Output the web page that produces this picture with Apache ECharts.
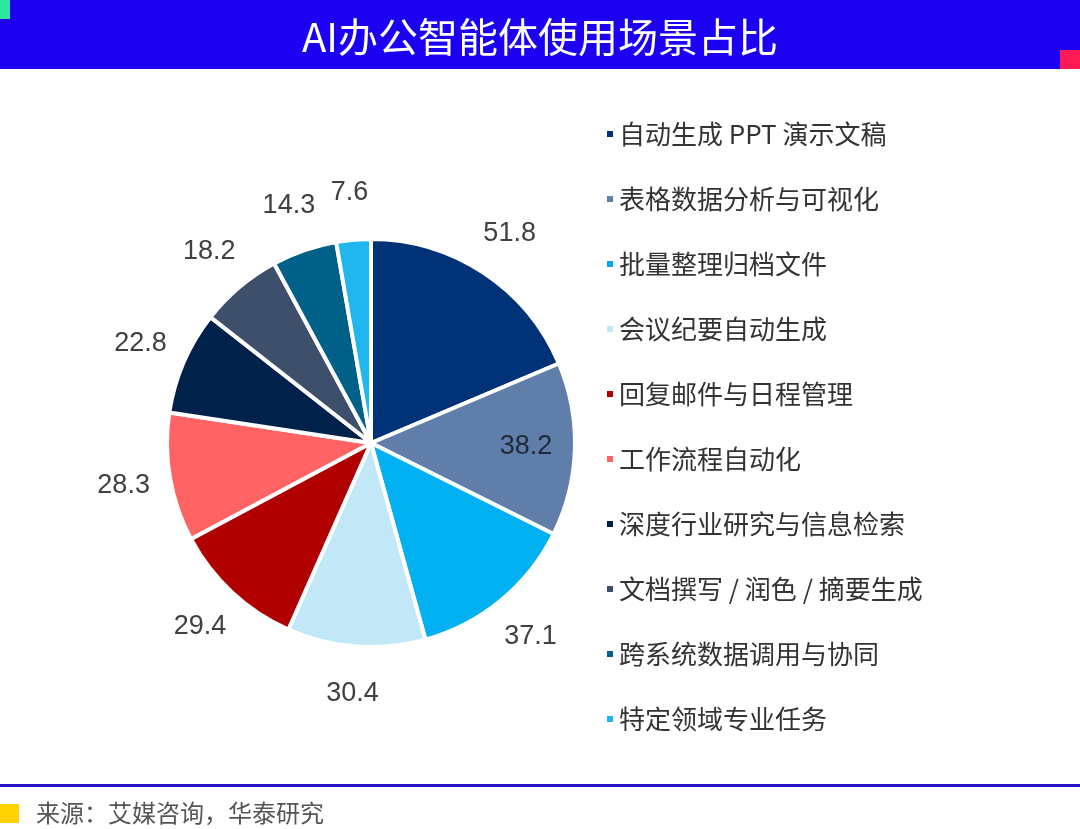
<!DOCTYPE html>
<html lang="zh">
<head>
    <meta charset="UTF-8">
    <title>AI办公智能体使用场景占比</title>
    <script src="https://cdn.jsdelivr.net/npm/echarts@6/dist/echarts.min.js"></script>
    <style>
        *{
            margin:0;
            padding:0;
        }
        html, body {
            width: 1080px;
            height: 829px;
            background: #fff;
            overflow: hidden;
        }
        #main {
            width: 1080px;
            height: 829px;
        }
    </style>
</head>
<body>
<div id="main"></div>
<script>
    // 使用场景 & 占比
    var categories = [
        '自动生成 PPT 演示文稿',
        '表格数据分析与可视化',
        '批量整理归档文件',
        '会议纪要自动生成',
        '回复邮件与日程管理',
        '工作流程自动化',
        '深度行业研究与信息检索',
        '文档撰写 / 润色 / 摘要生成',
        '跨系统数据调用与协同',
        '特定领域专业任务'
    ];
    var values = [51.8, 38.2, 37.1, 30.4, 29.4, 28.3, 22.8, 18.2, 14.3, 7.6];
    var colors = ['#003278', '#5f7faa', '#00b0f0', '#c2e8f8', '#b00000',
                  '#ff6363', '#00214a', '#3d4f6b', '#006088', '#20b6ee'];
    var insideIndex = 1; // 这一块的数值标在扇形里面

    var chart = echarts.init(document.getElementById('main'));

    var labelFont = {
        fontSize: 27,
        color: '#404040',
        fontFamily: 'Liberation Sans'
    };

    // 实际的饼图
    var pieData = categories.map(function (name, i) {
        var item = { name: name, value: values[i] };
        if (i === insideIndex) {
            item.label = { show: true, position: 'inside', offset: [50, 0], color: '#1f2a3a' };
        }
        return item;
    });

    // 透明外环，只用来把数值标签居中放在饼图外
    var ringData = categories.map(function (name, i) {
        return {
            name: name,
            value: values[i],
            label: { show: i !== insideIndex }
        };
    });

    var option = {
        color: colors,
        title: {
            text: 'AI办公智能体使用场景占比',
            left: 'center',
            top: 12,
            textStyle: {
                color: '#fff',
                fontSize: 40,
                fontWeight: 'normal',
                fontFamily: 'Noto Sans CJK SC'
            }
        },
        graphic: [
            { type: 'rect', z: -1, shape: { x: 0, y: 0, width: 1080, height: 69 }, style: { fill: '#1b00f2' } },
            { type: 'rect', shape: { x: 0, y: 0, width: 10, height: 19 }, style: { fill: '#2ee6a0' } },
            { type: 'rect', shape: { x: 1060, y: 50, width: 20, height: 19 }, style: { fill: '#ff1a55' } },
            { type: 'rect', shape: { x: 0, y: 784, width: 1080, height: 3 }, style: { fill: '#2a12c8' } },
            { type: 'rect', shape: { x: 0, y: 804, width: 19, height: 19 }, style: { fill: '#ffd200' } },
            {
                type: 'text', left: 36, top: 801,
                style: {
                    text: '来源：艾媒咨询，华泰研究',
                    fill: '#555',
                    fontSize: 24,
                    fontFamily: 'Noto Sans CJK SC'
                }
            }
        ],
        legend: {
            orient: 'vertical',
            left: 600,
            top: 116,
            icon: 'rect',
            itemWidth: 8,
            itemHeight: 8,
            itemGap: 39,
            data: categories,
            textStyle: {
                fontSize: 26,
                lineHeight: 26,
                color: '#333',
                fontFamily: 'Noto Sans CJK SC'
            }
        },
        series: [
            {
                name: '使用场景',
                type: 'pie',
                center: [371, 443],
                radius: 204,
                startAngle: 90,
                clockwise: true,
                itemStyle: {
                    borderColor: '#fff',
                    borderWidth: 4
                },
                label: Object.assign({ show: false, formatter: '{c}' }, labelFont),
                labelLine: { show: false },
                emphasis: { scale: false },
                data: pieData
            },
            {
                name: '标签',
                type: 'pie',
                center: [371, 443],
                radius: [204, 292],
                startAngle: 90,
                clockwise: true,
                silent: true,
                itemStyle: { color: 'rgba(0,0,0,0)' },
                label: Object.assign({ position: 'inside', formatter: '{c}' }, labelFont),
                labelLine: { show: false },
                emphasis: { disabled: true },
                tooltip: { show: false },
                data: ringData
            }
        ]
    };

    chart.setOption(option);
</script>
</body>
</html>
